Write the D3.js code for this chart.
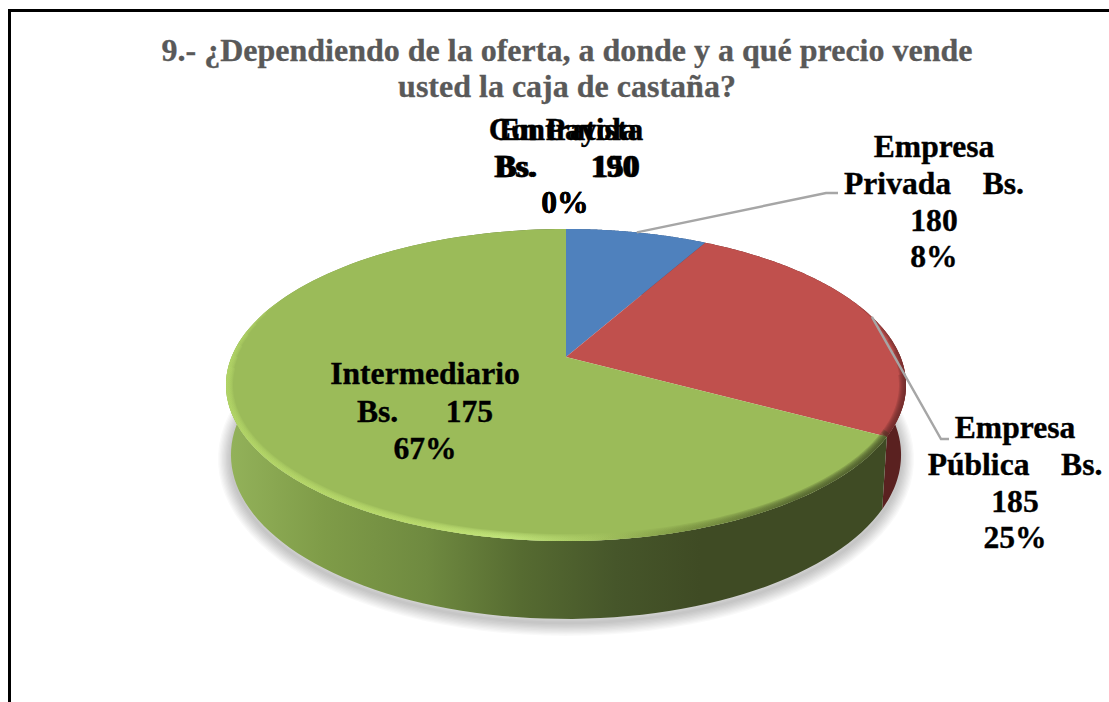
<!DOCTYPE html>
<html>
<head>
<meta charset="utf-8">
<script src="https://cdn.jsdelivr.net/npm/d3@7/dist/d3.min.js"></script>
<style>
html,body{margin:0;padding:0;background:#fff;overflow:hidden}
svg{display:block}
text{font-family:"Liberation Serif",serif;font-weight:bold;white-space:pre}
</style>
</head>
<body>
<svg id="c" width="1109" height="702"></svg>
<script>
const titleLines = ["9.- ¿Dependiendo de la oferta, a donde y a qué precio vende", "usted la caja de castaña?"];
const categories = ["Empresa Privada", "Empresa Pública", "Intermediario", "Contratista", "En Payola"];
const prices = [180, 185, 175, 190, 150];
const shares = [8, 25, 67, 0, 0];
const sliceColors = ["#4f81bd", "#c0504d", "#9bbb59"];
const wallColors = ["#34517a", "#5a2120", "#3f4b24"];
const labelLines = [
  ["Empresa", "Privada    Bs.", "180", "8%"],
  ["Empresa", "Pública    Bs.", "185", "25%"],
  ["Intermediario", "Bs.      175", "67%"],
  ["Contratista", "Bs.       190", "0%"],
  ["En Payola", "Bs.       150", "0%"]
];
const labelAnchors = [[934,157,36.8],[1015,438,36.8],[425,384,37.5],[566,140,36.5],[568,140,36.5]];

const svg = d3.select("#c");
const defs = svg.append("defs");

const grad = (id, x1, x2, stops) => {
  const g = defs.append("linearGradient").attr("id", id).attr("gradientUnits","userSpaceOnUse")
    .attr("x1",x1).attr("x2",x2).attr("y1",0).attr("y2",0);
  stops.forEach(([o,c]) => g.append("stop").attr("offset",o).attr("stop-color",c));
};
grad("wall2", 228, 700, [[0,"#93b25a"],[0.2,"#7f9c48"],[0.42,"#6f8a40"],[0.62,"#566b31"],[0.82,"#46562a"],[1,"#3f4b24"]]);
grad("rim2", 226, 890, [[0,"#b4d768"],[0.3,"#bfe070"],[0.42,"#c8ec80"],[0.55,"#a9c963"],[0.68,"#7d9643"],[0.85,"#4f5f2c"],[1,"#434f26"]]);

const persp = 0.1795;
const cx = 566;
const topDisc  = {ax:334.5, by:151, y0:357};
const baseDisc = {ax:329.6, by:158.7, y0:425.5};
const project = (disc, a) => {
  const X = Math.sin(a), Y = -Math.cos(a), d = 1 - persp * Y;
  return [cx + disc.ax * X / d, disc.y0 + disc.by * Y / d];
};
const arcPts = (disc, a0, a1) => d3.range(0, 121).map(i => project(disc, a0 + (a1 - a0) * i / 120));
const line = d3.line();

const pie = d3.pie().sort(null).value(d => d)(shares).slice(0, 3);
const TAU = Math.PI * 2;

svg.append("rect").attr("x",9.5).attr("y",10.5).attr("width",1300).attr("height",900)
  .attr("fill","none").attr("stroke","#000").attr("stroke-width",3);

svg.append("g").attr("fill","#595959").attr("stroke","#595959").attr("stroke-width",.3)
  .attr("font-size",32).attr("text-anchor","middle")
  .selectAll("text").data(titleLines).join("text")
  .attr("x",567).attr("y",(d,i)=>61+i*36).text(d=>d);

const shadowPath = line(arcPts(baseDisc,0,TAU))+"Z";
svg.append("g").attr("transform","translate(0,4)").selectAll("path")
  .data(d3.range(1,11)).join("path")
  .attr("d", shadowPath).attr("fill","none").attr("stroke","#000")
  .attr("stroke-opacity",.022).attr("stroke-width",k=>k*2.6);

[0,1,2].forEach(i => {
  const p = pie[i];
  svg.append("path")
    .attr("d", line([...arcPts(topDisc,p.startAngle,p.endAngle), ...arcPts(baseDisc,p.startAngle,p.endAngle).reverse()])+"Z")
    .attr("fill", i===2 ? "url(#wall2)" : wallColors[i]);
});

defs.append("clipPath").attr("id","topClip").append("path").attr("d", line(arcPts(topDisc,0,TAU))+"Z");
const faces = svg.append("g");
faces.selectAll("path").data(pie).join("path")
  .attr("d", p => line([[cx, topDisc.y0], ...arcPts(topDisc,p.startAngle,p.endAngle)])+"Z")
  .attr("fill",(p,i)=>sliceColors[i]);

// bevel: stacked strokes, narrower ones run farther so the ends taper
const rimSteps = d3.range(0,7);
const rim = svg.append("g").attr("clip-path","url(#topClip)");
const [g0, gSpan] = [pie[2].startAngle, pie[2].endAngle - pie[2].startAngle];
const [r0, rSpan] = [pie[1].startAngle, pie[1].endAngle - pie[1].startAngle];
rim.append("g").selectAll("path").data(rimSteps).join("path")
  .attr("d", k => line(arcPts(topDisc, g0-0.02, g0 + gSpan*(0.72 - k*0.018))))
  .attr("fill","none").attr("stroke","url(#rim2)").attr("stroke-opacity",.24).attr("stroke-width",k=>2+k*2);
rim.append("g").selectAll("path").data(rimSteps).join("path")
  .attr("d", k => line(arcPts(topDisc, r0 + rSpan*(0.45 + k*0.05), r0 + rSpan)))
  .attr("fill","none").attr("stroke","#6a2a28").attr("stroke-opacity",.24).attr("stroke-width",k=>2+k*2);

const mid = p => (p.startAngle + p.endAngle) / 2;
const leaders = [
  [project(topDisc, mid(pie[0])), [826,193], [838,193]],
  [project(topDisc, mid(pie[1])), [941,439], [949,439]]
];
svg.append("g").selectAll("path").data(leaders).join("path")
  .attr("d", d=>line(d)).attr("fill","none").attr("stroke","#a6a6a6").attr("stroke-width",2.4);

const lab = svg.append("g").attr("fill","#000").attr("stroke","#000").attr("stroke-width",.35)
  .attr("font-size",31.6).attr("text-anchor","middle");
labelLines.forEach((ls,i) => {
  const [x,y,dy] = labelAnchors[i];
  lab.append("g").selectAll("text").data(ls).join("text")
    .attr("x",(d,j)=> d==="0%" ? 565 : x).attr("y",(d,j)=>y+j*dy).text(d=>d);
});
</script>
</body>
</html>
